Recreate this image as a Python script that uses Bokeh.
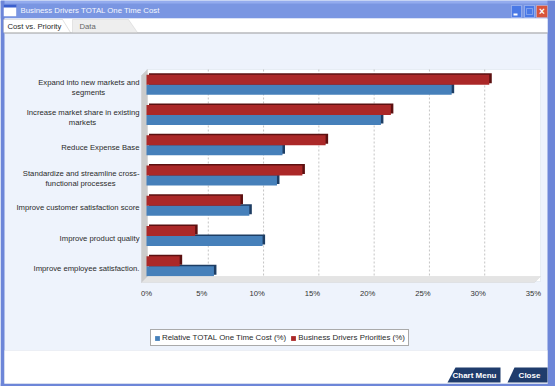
from bokeh.plotting import figure
from bokeh.models import (ColumnDataSource, Range1d, LabelSet, Label,
                          BoxAnnotation, PolyAnnotation, Legend, LegendItem)
from bokeh.transform import dodge
from bokeh.core.properties import value
from bokeh.embed import file_html
from bokeh.resources import INLINE

# ---------------- data ----------------
window_title = "Business Drivers TOTAL One Time Cost"
tab_names = ["Cost vs. Priority", "Data"]
button_names = ["Chart Menu", "Close"]
categories = [
    "Expand into new markets and\nsegments",
    "Increase market share in existing\nmarkets",
    "Reduce Expense Base",
    "Standardize and streamline cross-\nfunctional processes",
    "Improve customer satisfaction score",
    "Improve product quality",
    "Improve employee satisfaction.",
]
cost_pct = [27.6, 21.2, 12.3, 11.8, 9.3, 10.5, 6.1]
priority_pct = [31.0, 22.1, 16.2, 14.1, 8.5, 4.4, 3.0]
series_names = ["Relative TOTAL One Time Cost (%)", "Business Drivers Priorities (%)"]
x_ticks = [0, 5, 10, 15, 20, 25, 30, 35]
x_tick_labels = ["0%", "5%", "10%", "15%", "20%", "25%", "30%", "35%"]

# ---------------- layout (pixel coords, top-left origin) ----------------
W, H = 555, 386
FL, FR, FT, FB = 146, 540, 69, 281          # plot box
LAST_TICK_X = 533
PPU = (LAST_TICK_X - FL) / x_ticks[-1]      # px per percent
BAND = (FB - FT) / len(categories)          # px per category
V0 = FT + BAND / 2                          # pixel of first category centre
DEPTH_PX = 6.5
CAT_RIGHT_X = 139
WRAP_CENTER_X = {0: 88, 1: 82, 3: 80}
TICK_LABEL_Y = 293

FONT = "Liberation Sans"
FS = "7.7px"
TEXT = "#2a2a2a"
BLUE, BLUE_DARK = "#4680ba", "#1d3d63"
RED, RED_DARK = "#ab2828", "#5c1010"
PANEL = "#eef3fc"
TITLE_BLUE = "#7a96e2"
FRAME_BLUE = "#6d86d8"
NAVY = "#1f3c6c"

x_range = Range1d(-FL / PPU, (W - FL) / PPU)
y_range = Range1d((H - V0) / BAND, (0 - V0) / BAND)   # inverted: first category at top

p = figure(width=W, height=H, x_range=x_range, y_range=y_range,
           x_axis_location=None, y_axis_location=None,
           output_backend="svg", toolbar_location=None, min_border=0,
           title_location=None)
p.border_fill_color = PANEL
p.background_fill_color = PANEL
p.outline_line_color = None
p.grid.visible = False
p.extra_x_ranges = {"back": Range1d(-FL / PPU - DEPTH_PX / PPU, (W - FL) / PPU - DEPTH_PX / PPU)}

# ---------- helpers for window chrome (screen units from bottom-left) ----------
def box(x0, y0, x1, y1, fill, line=None, lw=1, level="underlay"):
    p.add_layout(BoxAnnotation(left=x0, right=x1, top=H - y0, bottom=H - y1,
                               left_units="screen", right_units="screen",
                               top_units="screen", bottom_units="screen",
                               fill_color=fill, fill_alpha=1.0, line_color=line,
                               line_width=lw, level=level))

def poly(pts, fill, line=None, level="underlay"):
    p.add_layout(PolyAnnotation(xs=[x for x, _ in pts], ys=[H - y for _, y in pts],
                                xs_units="screen", ys_units="screen",
                                fill_color=fill, fill_alpha=1.0, line_color=line,
                                level=level))

def text(x, y, s, size=FS, color=TEXT, align="left", bold=False):
    p.add_layout(Label(x=x, y=H - y, x_units="screen", y_units="screen", text=s,
                       text_font=FONT, text_font_size=size, text_color=color,
                       text_align=align, text_baseline="middle",
                       text_font_style="bold" if bold else "normal"))

# window frame + title bar
box(0, 0, W, 18, TITLE_BLUE)
box(0, 0, W, 3, "#93abee")
box(0, 0, 4, H, FRAME_BLUE)
box(547, 0, W, H, FRAME_BLUE)
box(0, 383, W, H, FRAME_BLUE)
box(3, 4, 16, 16, "white", "#3a5fcd")
box(3, 4, 16, 7, "#3a5fcd")
text(20, 10, window_title, size="7.8px", color="#f4f7ff")
box(511, 5, 521, 17, "#4a79e6", "#ffffff")
box(513, 13, 517, 15, "white")
box(524, 5, 534, 17, "#4a79e6", "#ffffff")
box(526, 8, 532, 14, None, "white")
box(536, 5, 547, 17, "#d8553c", "#ffffff")
text(541.5, 11, "\u00d7", size="10px", color="white", align="center", bold=True)

# tabs
box(4, 18, 547, 32, "white")
box(4, 32, 547, 33, "#9c9c9c")
poly([(72, 32), (72, 19), (128, 19), (137, 32)], "#eeeeee", "#b5b5b5")
poly([(3, 32), (3, 19), (62, 19), (70, 32)], "white", "#9c9c9c")
text(7, 26, tab_names[0], color=TEXT)
text(79, 26, tab_names[1], color="#666666")

# bottom area + buttons
box(4, 350, 547, 383, "white", "#d3d8e2")
poly([(447, 382), (455, 367), (500, 367), (500, 382)], NAVY)
poly([(507, 382), (514, 367), (547, 367), (547, 382)], NAVY)
text(474, 375, button_names[0], size="8px", color="white", align="center", bold=True)
text(529, 375, button_names[1], size="8px", color="white", align="center", bold=True)

# plot box (3D style)
box(FL, FT, FR, FB, "white", "#c3cfdf")
poly([(141, 75), (147, 69), (147, 276), (141, 282)], "#cbcbcb", "#bdbdbd")

# ---------------- grid on back wall ----------------
grid_x = x_ticks[1:-1]
p.segment(x0=grid_x, x1=grid_x, y0=-0.5, y1=len(categories) - 0.5, x_range_name="back",
          line_color="#c4c4c4", line_dash="2 2", line_width=1)

# ---------------- bars ----------------
idx = list(range(len(categories)))
src = ColumnDataSource(dict(idx=idx, cost=cost_pct, priority=priority_pct))
BAR_H = 10 / BAND
HALF = BAR_H / 2
SY = 1.5 / BAND
SX = 2.5 / PPU

p.hbar(y=dodge("idx", HALF - SY), left=SX, right=dodge("cost", SX),
       height=BAR_H, source=src, fill_color=BLUE_DARK, line_color=None)
r_blue = p.hbar(y=dodge("idx", HALF), left=0, right="cost",
                height=BAR_H, source=src, fill_color=BLUE, line_color=None)
p.hbar(y=dodge("idx", -HALF - SY), left=SX, right=dodge("priority", SX),
       height=BAR_H, source=src, fill_color=RED_DARK, line_color=None)
r_red = p.hbar(y=dodge("idx", -HALF), left=0, right="priority",
               height=BAR_H, source=src, fill_color=RED, line_color=None)

# floor (in front of grid)
poly([(141, 282), (147, 276), (540, 276), (534, 282)], "#e4e4e4", "#cbcbcb", level="glyph")

# ---------------- x tick labels ----------------
p.add_layout(LabelSet(x="x", y="y", text="text", y_units="screen",
                      source=ColumnDataSource(dict(x=x_ticks, y=[H - TICK_LABEL_Y] * len(x_ticks),
                                                   text=x_tick_labels)),
                      text_font=value(FONT), text_font_size=value(FS),
                      text_color="#333333", text_align="center", text_baseline="middle"))

# ---------------- category labels ----------------
lab = dict(y=[], x=[], text=[], dy=[], align=[])
for i, c in enumerate(categories):
    lines = c.split("\n")
    if len(lines) == 1:
        rows = [(CAT_RIGHT_X, lines[0], -2, "right")]
    else:
        rows = [(CAT_RIGHT_X, lines[0], 2, "right"),
                (WRAP_CENTER_X[i], lines[1], -8, "center")]
    for x, t, dy, al in rows:
        lab["y"].append(i)
        lab["x"].append(x)
        lab["text"].append(t)
        lab["dy"].append(dy)
        lab["align"].append(al)
p.add_layout(LabelSet(x="x", y="y", text="text", y_offset="dy", text_align="align",
                      x_units="screen", source=ColumnDataSource(lab),
                      text_font=value(FONT), text_font_size=value(FS),
                      text_color=TEXT, text_baseline="middle"))

# ---------------- legend ----------------
legend = Legend(items=[LegendItem(label=series_names[0], renderers=[r_blue]),
                       LegendItem(label=series_names[1], renderers=[r_red])],
                orientation="horizontal", location=(150, H - 346),
                glyph_width=6, glyph_height=6, label_height=9, label_standoff=2,
                spacing=4, padding=3, margin=0,
                label_text_font=FONT, label_text_font_size="7.9px", label_text_color=TEXT,
                border_line_color="#555555", border_line_width=1,
                background_fill_color="white", background_fill_alpha=1.0)
p.add_layout(legend, "center")

open("out.html", "w").write(file_html(p, INLINE))
